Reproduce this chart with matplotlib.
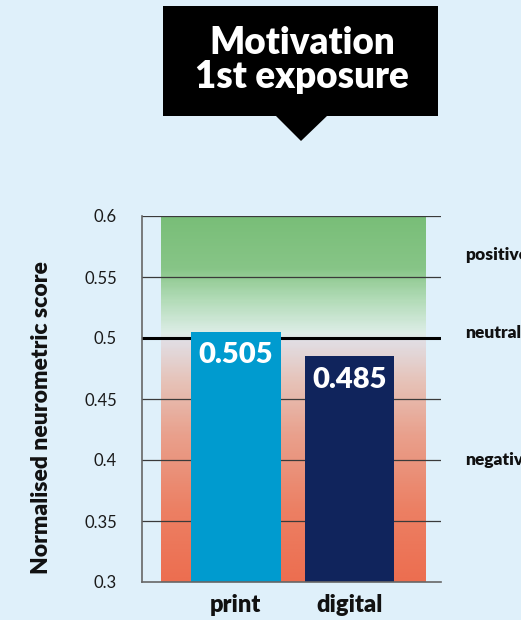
import numpy as np
import matplotlib
matplotlib.use("Agg")
import matplotlib.pyplot as plt
from matplotlib.colors import LinearSegmentedColormap
from matplotlib.patches import Polygon, Rectangle

categories = ["print", "digital"]
values = [0.505, 0.485]
value_labels = ["0.505", "0.485"]
bar_colors = ["#009BCF", "#10245C"]
yticks = [0.3, 0.35, 0.4, 0.45, 0.5, 0.55, 0.6]
ytick_labels = ["0.3", "0.35", "0.4", "0.45", "0.5", "0.55", "0.6"]
zone_labels = ["positive", "neutral", "negative"]
zone_y = [0.568, 0.504, 0.40]
title = "Motivation\n1st exposure"
ylabel = "Normalised neurometric score"

BG = "#DFF0FA"
plt.rcParams['font.family'] = ['Lato', 'DejaVu Sans']
HW = "heavy"

fig = plt.figure(figsize=(5.21, 6.20), dpi=100, facecolor=BG)
ax = fig.add_axes([142/521, 1-582/620, (441-142)/521, (582-216)/620])
ax.set_facecolor(BG)

x = np.arange(len(categories))
ax.set_xlim(-0.823, 1.804)
ax.set_ylim(0.3, 0.6)

# gradient background band
cmap = LinearSegmentedColormap.from_list("zone", [
    (0.0, (236/255, 110/255, 80/255)),
    (0.20, (236/255, 128/255, 100/255)),
    (0.40, (233/255, 160/255, 140/255)),
    (0.55, (230/255, 195/255, 185/255)),
    (0.66, (225/255, 222/255, 228/255)),
    (0.68, (222/255, 238/255, 232/255)),
    (0.78, (175/255, 218/255, 180/255)),
    (0.86, (135/255, 197/255, 135/255)),
    (1.0, (121/255, 190/255, 120/255)),
])
grad = np.linspace(0, 1, 300).reshape(-1, 1)
ax.imshow(grad, cmap=cmap, origin="lower", aspect="auto",
          extent=[-0.656, 1.665, 0.3, 0.6], zorder=0.5)

for yv in yticks[1:]:
    if yv == 0.5:
        ax.axhline(yv, color="black", lw=2.2, zorder=1.5)
    else:
        ax.axhline(yv, color="#3a3a3a", lw=0.9, zorder=1.5)

ax.bar(x, [v - 0.3 for v in values], bottom=0.3, width=0.79,
       color=bar_colors, zorder=2)
for xi, v, lab in zip(x, values, value_labels):
    ax.text(xi, v - 0.0085, lab, ha="center", va="top", color="white",
            fontsize=21, fontweight=HW, zorder=3)

ax.set_yticks(yticks)
ax.set_yticklabels(ytick_labels, fontsize=12, color="#1a1a1a")
ax.set_xticks(x)
ax.set_xticklabels(categories, fontsize=17, fontweight=HW, color="#111111")
ax.tick_params(axis="y", length=0, pad=18)
ax.tick_params(axis="x", length=0, pad=9)
for s in ["top", "right"]:
    ax.spines[s].set_visible(False)
ax.spines["left"].set_color("#666666")
ax.spines["left"].set_linewidth(1.2)
ax.spines["bottom"].set_color("#666666")
ax.spines["bottom"].set_linewidth(1.2)
ax.spines["bottom"].set_zorder(2.5)

ax.set_ylabel(ylabel, fontsize=16.5, fontweight=HW, color="#111111")
ax.yaxis.set_label_coords(-0.30, 0.45)

for lab, yv in zip(zone_labels, zone_y):
    ax.text(2.02, yv, lab, ha="left", va="center", fontsize=12.5,
            fontweight=HW, color="#111111", clip_on=False)

# title box with pointer
fig.patches.append(Rectangle((163/521, 1-116/620), (438-163)/521, (116-6)/620,
                             transform=fig.transFigure, facecolor="black",
                             edgecolor="none"))
fig.patches.append(Polygon([[275/521, 1-115/620], [328/521, 1-115/620],
                            [301/521, 1-141/620]], closed=True,
                           transform=fig.transFigure, facecolor="black",
                           edgecolor="none"))
fig.text(302/521, 1-60/620, title, ha="center", va="center", color="white",
         fontsize=26.5, fontweight=HW, linespacing=1.0)

fig.savefig("out.png", dpi=100, facecolor=BG)
